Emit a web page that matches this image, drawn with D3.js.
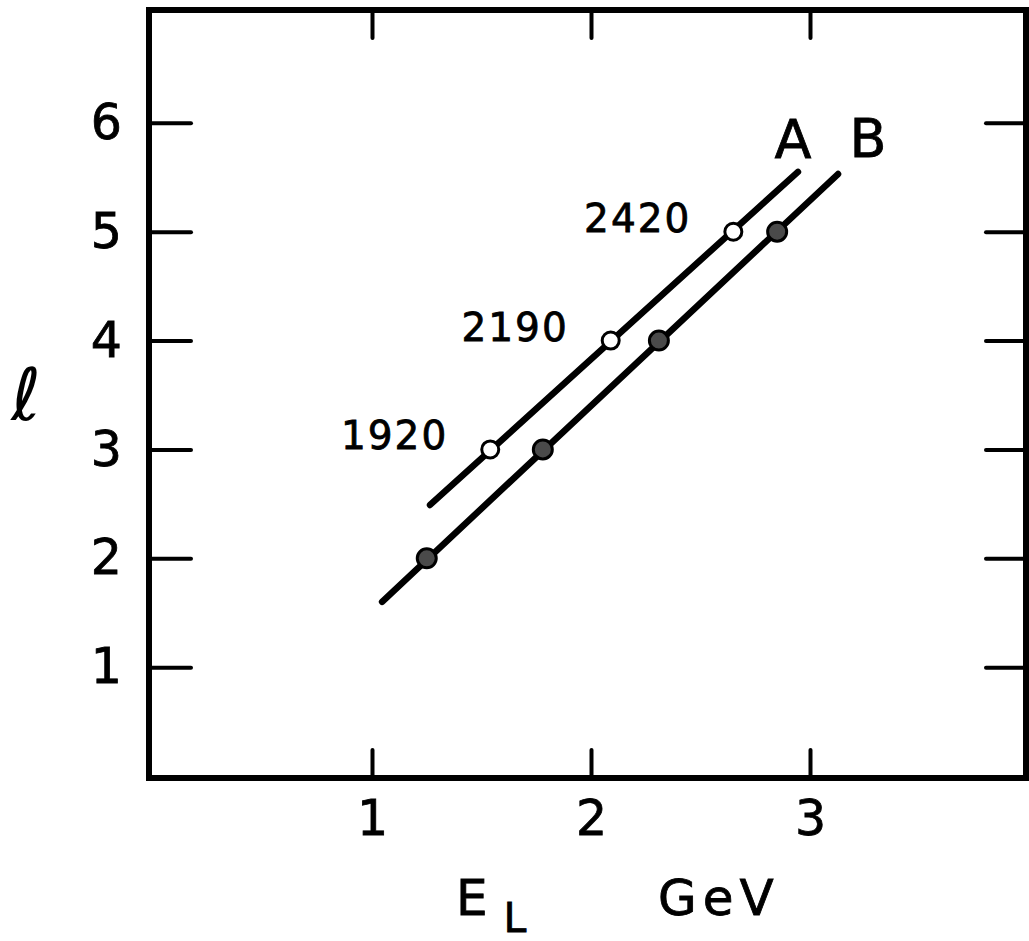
<!DOCTYPE html>
<html>
<head>
<meta charset="utf-8">
<script src="https://cdn.jsdelivr.net/npm/d3@7"></script>
<style>
  html, body { margin: 0; padding: 0; background: #fff; }
  svg { display: block; }
  text { font-family: "DejaVu Sans", sans-serif; fill: #000; }
</style>
</head>
<body>
<svg id="chart" width="1029" height="941"></svg>
<script>
// ---- data ----
const xTicks = [1, 2, 3];
const yTicks = [1, 2, 3, 4, 5, 6];
// open circles (trajectory A): orbital l vs E_L (GeV)
const seriesA_l = [3, 4, 5];
const seriesA_E = [1.54, 2.09, 2.65];
// filled circles (trajectory B)
const seriesB_l = [2, 3, 4, 5];
const seriesB_E = [1.25, 1.78, 2.31, 2.85];
// fitted straight lines (endpoints in data units)
const lineA_E = [1.265, 2.945];
const lineA_l = [2.49, 5.55];
const lineB_E = [1.046, 3.128];
const lineB_l = [1.60, 5.53];
// mass labels attached to A points (l = 3, 4, 5)
const massLabels = ["1920", "2190", "2420"];
const lineNames = ["A", "B"];

// ---- layout ----
const svg = d3.select("#chart");
const frame = { left: 149, right: 1026, top: 10, bottom: 778 };
const x = d3.scaleLinear().domain([0, 4]).range([153, 1029]);
const y = d3.scaleLinear().domain([0, 7]).range([776, 14]);

// frame
svg.append("rect")
  .attr("x", frame.left).attr("y", frame.top)
  .attr("width", frame.right - frame.left)
  .attr("height", frame.bottom - frame.top)
  .attr("fill", "none").attr("stroke", "#000").attr("stroke-width", 6);

function styleAxis(g, showLabels) {
  g.select(".domain").remove();
  g.selectAll(".tick line").attr("stroke", "#000").attr("stroke-width", 4).attr("stroke-linecap", "round");
  if (!showLabels) g.selectAll(".tick text").remove();
  else g.selectAll(".tick text").attr("font-size", 49).attr("fill", "#000")
        .attr("stroke", "#000").attr("stroke-width", 0.8)
        .attr("font-family", "DejaVu Sans, sans-serif");
}

// left axis
svg.append("g").attr("transform", `translate(${frame.left},0)`)
  .call(d3.axisLeft(y).tickValues(yTicks).tickSize(-42).tickPadding(27).tickFormat(d3.format("d")))
  .call(g => styleAxis(g, true));
// right axis
svg.append("g").attr("transform", `translate(${frame.right},0)`)
  .call(d3.axisRight(y).tickValues(yTicks).tickSize(-40))
  .call(g => styleAxis(g, false));
// bottom axis
svg.append("g").attr("transform", `translate(0,${frame.bottom})`)
  .call(d3.axisBottom(x).tickValues(xTicks).tickSize(-28).tickPadding(22).tickFormat(d3.format("d")))
  .call(g => styleAxis(g, true));
// top axis
svg.append("g").attr("transform", `translate(0,${frame.top})`)
  .call(d3.axisTop(x).tickValues(xTicks).tickSize(-28))
  .call(g => styleAxis(g, false));

// lines
const lineGen = d3.line().x(d => x(d[0])).y(d => y(d[1]));
const linesData = [
  d3.zip(lineA_E, lineA_l),
  d3.zip(lineB_E, lineB_l)
];
svg.selectAll("path.traj").data(linesData).join("path")
  .attr("class", "traj")
  .attr("d", lineGen)
  .attr("fill", "none").attr("stroke", "#000")
  .attr("stroke-width", 6.5).attr("stroke-linecap", "round");

// points
const ptsA = d3.zip(seriesA_E, seriesA_l);
const ptsB = d3.zip(seriesB_E, seriesB_l);
svg.selectAll("circle.ptA").data(ptsA).join("circle")
  .attr("class", "ptA")
  .attr("cx", d => x(d[0])).attr("cy", d => y(d[1]))
  .attr("r", 8.5).attr("fill", "#fff").attr("stroke", "#000").attr("stroke-width", 3);
svg.selectAll("circle.ptB").data(ptsB).join("circle")
  .attr("class", "ptB")
  .attr("cx", d => x(d[0])).attr("cy", d => y(d[1]))
  .attr("r", 9.5).attr("fill", "#4a4a4a").attr("stroke", "#000").attr("stroke-width", 3);

// mass labels
svg.selectAll("text.mass").data(ptsA).join("text")
  .attr("class", "mass")
  .attr("x", d => x(d[0]) - 42)
  .attr("y", d => y(d[1]))
  .attr("text-anchor", "end")
  .attr("font-size", 39)
  .attr("letter-spacing", 2)
  .attr("stroke", "#000").attr("stroke-width", 0.8)
  .text((d, i) => massLabels[i]);

// line names
const ends = [linesData[0][1], linesData[1][1]];
svg.selectAll("text.lname").data(ends).join("text")
  .attr("class", "lname")
  .attr("x", (d, i) => x(d[0]) + (i === 0 ? -5 : 30))
  .attr("y", (d, i) => y(d[1]) - (i === 0 ? 14 : 17))
  .attr("text-anchor", "middle")
  .attr("font-size", 54)
  .attr("stroke", "#000").attr("stroke-width", 0.8)
  .text((d, i) => lineNames[i]);

// y-axis title (script l)
svg.append("text")
  .attr("x", 26).attr("y", 420)
  .attr("text-anchor", "middle")
  .attr("font-size", 72)
  .attr("font-family", "DejaVu Serif, serif")
  .text("ℓ");

// x-axis title
const xt = svg.append("text").attr("x", 456).attr("y", 915).attr("font-size", 50)
  .attr("stroke", "#000").attr("stroke-width", 0.8);
xt.append("tspan").text("E");
xt.append("tspan").attr("dx", 16).attr("dy", 17).attr("font-size", 41).text("L");
svg.append("text").attr("x", 658).attr("y", 915).attr("font-size", 50)
  .attr("stroke", "#000").attr("stroke-width", 0.8)
  .attr("letter-spacing", 6).text("GeV");
</script>
</body>
</html>
